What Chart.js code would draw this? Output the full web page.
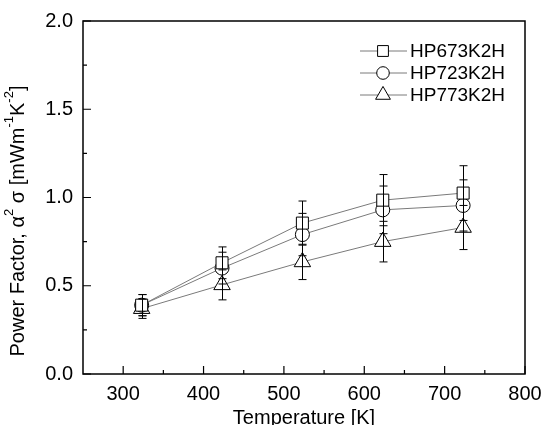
<!DOCTYPE html>
<html>
<head>
<meta charset="utf-8">
<script src="https://cdn.jsdelivr.net/npm/chart.js@4/dist/chart.umd.min.js"></script>
<style>
  html, body { margin: 0; padding: 0; background: #fff; }
  #wrap { width: 543px; height: 425px; }
</style>
</head>
<body>
<div id="wrap"><canvas id="pfChart" width="543" height="425"></canvas></div>
<script>
// temperatures (K)
const temps = [323, 423, 523, 623, 723];

// power factor values
const hp673 = [0.39, 0.63, 0.855, 0.985, 1.025];
const hp723 = [0.39, 0.60, 0.79, 0.93, 0.955];
const hp773 = [0.37, 0.505, 0.635, 0.75, 0.83];

// error bars (+/-)
const hp673Err = [0.06, 0.09, 0.125, 0.145, 0.155];
const hp723Err = [0.06, 0.09, 0.12, 0.135, 0.145];
const hp773Err = [0.055, 0.085, 0.10, 0.115, 0.125];

const seriesNames = ['HP673K2H', 'HP723K2H', 'HP773K2H'];

// axis ticks
const xMajor = [300, 400, 500, 600, 700, 800];
const xMinor = [350, 450, 550, 650, 750];
const yMajor = [0, 0.5, 1.0, 1.5, 2.0];
const yMinor = [0.25, 0.75, 1.25, 1.75];

// y title pieces (text, superscript?)
const yTitle = [
  ['Power Factor, \u03B1', false], ['2', true], [' \u03C3 [mWm', false],
  ['-1', true], ['K', false], ['-2', true], [']', false]
];

const FONT = '"Liberation Sans", Arial, sans-serif';
const styles = ['rect', 'circle', 'triangle'];
const radii = [8.5, 7, 9.5];
const errs = [hp673Err, hp723Err, hp773Err];

function mkData(vals) {
  return temps.map((t, i) => ({ x: t, y: vals[i] }));
}

const datasets = [hp673, hp723, hp773].map((vals, k) => ({
  label: seriesNames[k],
  data: mkData(vals),
  borderColor: '#7a7a7a',
  borderWidth: 1,
  pointStyle: styles[k],
  pointRadius: radii[k],
  pointBackgroundColor: '#fff',
  pointBorderColor: '#000',
  pointBorderWidth: 1,
  tension: 0
}));

// error bars, frame, inward ticks, legend and y title
const extras = {
  id: 'extras',
  afterDatasetsDraw(chart) {
    const c = chart.ctx;
    const xs = chart.scales.x, ys = chart.scales.y;
    c.save();
    c.strokeStyle = '#000';
    c.lineWidth = 1;
    errs.forEach((e, k) => {
      chart.data.datasets[k].data.forEach((p, i) => {
        const px = Math.round(xs.getPixelForValue(p.x)) + 0.5;
        const top = ys.getPixelForValue(p.y + e[i]);
        const bot = ys.getPixelForValue(p.y - e[i]);
        c.beginPath();
        c.moveTo(px, top); c.lineTo(px, bot);
        c.moveTo(px - 4, top); c.lineTo(px + 4, top);
        c.moveTo(px - 4, bot); c.lineTo(px + 4, bot);
        c.stroke();
      });
    });
    c.restore();
  },
  afterDraw(chart) {
    const c = chart.ctx;
    const a = chart.chartArea;
    const xs = chart.scales.x, ys = chart.scales.y;
    c.save();
    c.strokeStyle = '#000';
    c.lineWidth = 1.5;
    c.strokeRect(a.left, a.top, a.right - a.left, a.bottom - a.top);
    c.lineWidth = 1.2;
    c.beginPath();
    xMajor.forEach(v => {
      const px = xs.getPixelForValue(v);
      c.moveTo(px, a.bottom); c.lineTo(px, a.bottom - 8);
    });
    xMinor.forEach(v => {
      const px = xs.getPixelForValue(v);
      c.moveTo(px, a.bottom); c.lineTo(px, a.bottom - 4);
    });
    yMajor.forEach(v => {
      const py = ys.getPixelForValue(v);
      c.moveTo(a.left, py); c.lineTo(a.left + 8, py);
    });
    yMinor.forEach(v => {
      const py = ys.getPixelForValue(v);
      c.moveTo(a.left, py); c.lineTo(a.left + 4, py);
    });
    c.stroke();

    // legend
    const rows = [51, 73, 95];
    c.font = '19px ' + FONT;
    c.textBaseline = 'middle';
    chart.data.datasets.forEach((ds, k) => {
      const y = rows[k];
      c.strokeStyle = '#7a7a7a';
      c.lineWidth = 1;
      c.beginPath();
      c.moveTo(360, y); c.lineTo(407, y);
      c.stroke();
      c.strokeStyle = '#000';
      c.fillStyle = '#fff';
      Chart.helpers.drawPoint(c, {
        pointStyle: ds.pointStyle, radius: ds.pointRadius * 0.9, rotation: 0,
        borderWidth: 1
      }, 383, y);
      c.fillStyle = '#000';
      c.fillText(ds.label, 410, y + 1);
    });

    // y axis title with superscripts
    c.translate(18, 221);
    c.rotate(-Math.PI / 2);
    c.textBaseline = 'middle';
    c.fillStyle = '#000';
    const big = '20px ' + FONT, small = '13px ' + FONT;
    let w = 0;
    yTitle.forEach(([t, sup]) => { c.font = sup ? small : big; w += c.measureText(t).width; });
    let x = -w / 2;
    yTitle.forEach(([t, sup]) => {
      c.font = sup ? small : big;
      c.fillText(t, x, sup ? -9 : 0);
      x += c.measureText(t).width;
    });
    c.restore();
  }
};

new Chart(document.getElementById('pfChart'), {
  type: 'line',
  data: { datasets: datasets },
  options: {
    responsive: false,
    animation: false,
    layout: { padding: { top: 21, right: 18, left: 0, bottom: 0 } },
    plugins: { legend: { display: false }, tooltip: { enabled: false } },
    scales: {
      x: {
        type: 'linear',
        min: 250,
        max: 800,
        afterBuildTicks: s => { s.ticks = xMajor.map(v => ({ value: v })); },
        afterFit: s => { s.height = 51; s.paddingLeft = 0; s.paddingRight = 0; },
        grid: { display: false, drawTicks: false },
        border: { display: false },
        ticks: {
          color: '#000',
          font: { family: FONT, size: 20 },
          padding: 8,
          maxRotation: 0,
          autoSkip: false,
          callback: v => String(v)
        },
        title: {
          display: true,
          text: 'Temperature [K]',
          color: '#000',
          font: { family: FONT, size: 20 },
          padding: { top: 0, bottom: -5 }
        }
      },
      y: {
        min: 0,
        max: 2,
        afterBuildTicks: s => { s.ticks = yMajor.map(v => ({ value: v })); },
        afterFit: s => { s.width = 83; s.paddingTop = 0; s.paddingBottom = 0; },
        grid: { display: false, drawTicks: false },
        border: { display: false },
        ticks: {
          color: '#000',
          font: { family: FONT, size: 20 },
          padding: 10,
          autoSkip: false,
          callback: v => v.toFixed(1)
        },
        title: { display: false }
      }
    }
  },
  plugins: [extras]
});
</script>
</body>
</html>
